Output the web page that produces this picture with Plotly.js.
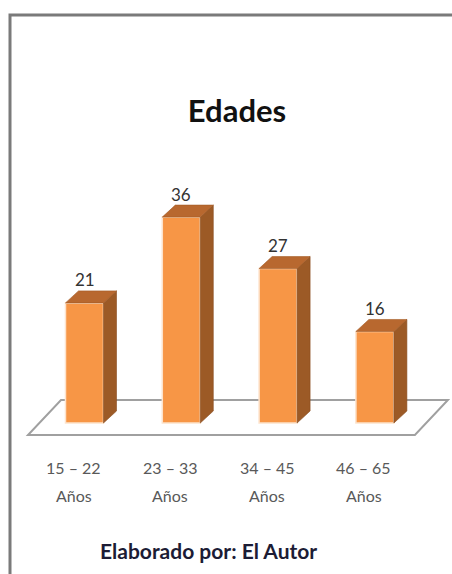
<!DOCTYPE html>
<html>
<head>
<meta charset="utf-8">
<script src="https://cdn.plot.ly/plotly-3.0.1.min.js"></script>
<style>html,body{margin:0;padding:0;background:#fff;}#chart{width:452px;height:574px;}</style>
</head>
<body>
<div id="chart"></div>
<script>
// ---- data ----
const categories = ["15 – 22", "23 – 33", "34 – 45", "46 – 65"];
const categorySub = ["Años", "Años", "Años", "Años"];
const values = [21, 36, 27, 16];
const chartTitle = "Edades";
const footer = "Elaborado por: El Autor";

// ---- geometry / style ----
const W = 452, H = 574;
const xPxPerUnit = 96.8, yPxPerUnit = 5.72;
const firstBarPx = 84.5, zeroPx = 423;
const xRange = [-firstBarPx / xPxPerUnit, (W - firstBarPx) / xPxPerUnit];
const yRange = [-(H - zeroPx) / yPxPerUnit, zeroPx / yPxPerUnit];
const px2dx = p => p / xPxPerUnit;
const px2dy = p => p / yPxPerUnit;

const barW = px2dx(38);
const depthX = px2dx(13), depthY = px2dy(12);
const FONT = 'Lato, "DejaVu Sans Condensed", sans-serif';
const cFront = '#F79646', cSide = '#9C5A26', cTop = '#B8682F';

const xs = categories.map((_, i) => i);

const traces = [];
// side and top faces (computed from values)
xs.forEach((x, i) => {
  const v = values[i];
  const r = x + barW / 2, l = x - barW / 2;
  traces.push({
    type: 'scatter', mode: 'lines', fill: 'toself', hoverinfo: 'skip', showlegend: false,
    x: [r, r + depthX, r + depthX, r, r], y: [0, depthY, v + depthY, v, 0],
    fillcolor: cSide, line: {color: '#8a4e20', width: 0.6}
  });
  traces.push({
    type: 'scatter', mode: 'lines', fill: 'toself', hoverinfo: 'skip', showlegend: false,
    x: [l, r, r + depthX, l + depthX, l], y: [v, v, v + depthY, v + depthY, v],
    fillcolor: cTop, line: {color: '#a35a25', width: 0.6}
  });
});
// front faces
traces.push({
  type: 'bar', x: xs, y: values, width: barW, hoverinfo: 'skip', showlegend: false,
  marker: {color: cFront, line: {color: '#FDE3CC', width: 1.5}}
});

// floor
const floorFrontY = -px2dy(12), floorBackY = px2dy(23);
const floorL = xs[0] - px2dx(56.5), floorR = xs[xs.length - 1] + px2dx(40);
const floorSlant = px2dx(33);
const floorPath = `M ${floorL} ${floorFrontY} L ${floorR} ${floorFrontY} L ${floorR + floorSlant} ${floorBackY} L ${floorL + floorSlant} ${floorBackY} Z`;

const shapes = [
  {type: 'path', xref: 'x', yref: 'y', layer: 'below', path: floorPath,
   fillcolor: '#ffffff', line: {color: '#a0a0a0', width: 2}},
  // frame border (left + top)
  {type: 'path', xref: 'paper', yref: 'paper', layer: 'above',
   path: `M ${10/W} 0 L ${10/W} ${1 - 15/H} L 1 ${1 - 15/H}`,
   line: {color: '#7a7a7a', width: 3}}
];

const annotations = [];
xs.forEach((x, i) => {
  annotations.push({x: x, y: values[i], xref: 'x', yref: 'y', text: String(values[i]),
    showarrow: false, yanchor: 'middle', yshift: 23, xshift: 0,
    font: {family: FONT, size: 17, color: '#333333'}});
  annotations.push({x: x, y: 0, xref: 'x', yref: 'y', text: categories[i],
    showarrow: false, yanchor: 'middle', yshift: -44, xshift: -11,
    font: {family: FONT, size: 16, color: '#595959'}});
  annotations.push({x: x, y: 0, xref: 'x', yref: 'y', text: categorySub[i],
    showarrow: false, yanchor: 'middle', yshift: -72, xshift: -11,
    font: {family: FONT, size: 16, color: '#595959'}});
});
annotations.push({x: 208 / W, y: 1 - 550 / H, xref: 'paper', yref: 'paper', text: '<b>' + footer + '</b>',
  showarrow: false, xanchor: 'center', yanchor: 'middle',
  font: {family: FONT, size: 21, color: '#1c1c35'}});

const layout = {
  width: W, height: H,
  margin: {l: 0, r: 0, t: 0, b: 0},
  paper_bgcolor: '#ffffff', plot_bgcolor: '#ffffff',
  showlegend: false,
  title: {text: '<b>' + chartTitle + '</b>', x: 237 / W, xanchor: 'center', xref: 'paper',
          y: 1 - 111 / H, yref: 'container', yanchor: 'middle',
          font: {family: FONT, size: 31, color: '#111111'}},
  xaxis: {range: xRange, visible: false, fixedrange: true},
  yaxis: {range: yRange, visible: false, fixedrange: true},
  shapes: shapes,
  annotations: annotations
};

Plotly.newPlot('chart', traces, layout, {staticPlot: true, displayModeBar: false});
</script>
</body>
</html>
